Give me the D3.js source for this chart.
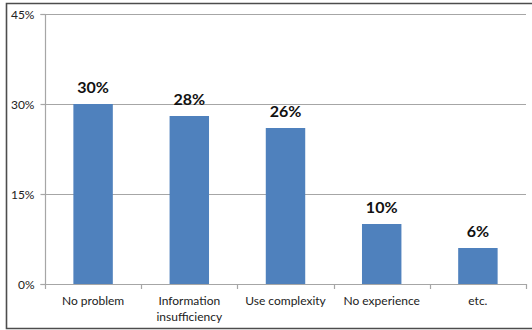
<!DOCTYPE html>
<html>
<head>
<meta charset="utf-8">
<script src="https://cdn.jsdelivr.net/npm/d3@7"></script>
<style>
  html, body { margin: 0; padding: 0; background: #fff; }
  svg { display: block; }
</style>
</head>
<body>
<svg id="chart" width="532" height="330"></svg>
<script>
// Survey responses, share of respondents (%)
const categories = [["No problem"], ["Information", "insufficiency"], ["Use complexity"], ["No experience"], ["etc."]];
const values = [30, 28, 26, 10, 6];
const valueLabels = ["30%", "28%", "26%", "10%", "6%"];
const yTicks = [0, 15, 30, 45];
const yTickLabels = ["0%", "15%", "30%", "45%"];

const svg = d3.select("#chart");
const font = "Lato, 'Open Sans', sans-serif";

// outer frame (right edge runs off the canvas)
svg.append("path")
  .attr("d", "M540,3.5 H6.5 V328.5 H540")
  .attr("fill", "none")
  .attr("stroke", "#4d4d4d")
  .attr("stroke-width", 1.6);

const plot = { left: 45, right: 526, top: 14, bottom: 284 };

const x = d3.scaleBand()
  .domain(d3.range(categories.length))
  .range([plot.left, plot.right])
  .paddingInner(0.59)
  .paddingOuter(0.295);

const xb = d3.scaleBand()
  .domain(d3.range(categories.length))
  .range([plot.left, plot.right]);

const y = d3.scaleLinear().domain([0, 45]).range([plot.bottom, plot.top]);

// horizontal gridlines
svg.append("g")
  .selectAll("line")
  .data(yTicks.filter(t => t > 0))
  .join("line")
  .attr("x1", plot.left).attr("x2", plot.right)
  .attr("y1", d => Math.round(y(d)) + 0.5).attr("y2", d => Math.round(y(d)) + 0.5)
  .attr("stroke", "#a6a6a6").attr("stroke-width", 1.2);

// y axis
const yAxis = d3.axisLeft(y)
  .tickValues(yTicks)
  .tickFormat((d, i) => yTickLabels[i])
  .tickSize(5)
  .tickPadding(6);
const gy = svg.append("g")
  .attr("transform", `translate(${plot.left + 0.5},0)`)
  .call(yAxis);
gy.select(".domain").attr("stroke", "#a6a6a6").attr("stroke-width", 1.2)
  .attr("d", `M-5,${y(45) + 0.5}H0V${y(0) + 0.5}H-5`);
gy.selectAll(".tick line").attr("stroke", "#a6a6a6").attr("stroke-width", 1.2);
gy.selectAll(".tick").attr("transform", d => `translate(0,${Math.round(y(d)) + 0.5})`);
gy.selectAll(".tick text")
  .attr("font-family", font).attr("font-size", 12).attr("fill", "#222")
  .attr("dy", "0.35em");

// bars
svg.append("g")
  .selectAll("rect")
  .data(values)
  .join("rect")
  .attr("x", (d, i) => x(i))
  .attr("width", x.bandwidth())
  .attr("y", d => y(d))
  .attr("height", d => y(0) - y(d))
  .attr("fill", "#4f81bd");

// x axis line and band-boundary ticks
const gx = svg.append("g");
gx.append("line")
  .attr("x1", plot.left).attr("x2", plot.right)
  .attr("y1", plot.bottom + 0.5).attr("y2", plot.bottom + 0.5)
  .attr("stroke", "#a6a6a6").attr("stroke-width", 1.2);
gx.selectAll("line.tk")
  .data(d3.range(categories.length + 1))
  .join("line")
  .attr("class", "tk")
  .attr("x1", i => Math.round(plot.left + i * xb.bandwidth()) + 0.5)
  .attr("x2", i => Math.round(plot.left + i * xb.bandwidth()) + 0.5)
  .attr("y1", plot.bottom).attr("y2", plot.bottom + 5)
  .attr("stroke", "#a6a6a6").attr("stroke-width", 1.2);

// category labels
gx.selectAll("text")
  .data(categories)
  .join("text")
  .attr("x", (d, i) => xb(i) + xb.bandwidth() / 2)
  .attr("y", 305)
  .attr("text-anchor", "middle")
  .attr("font-family", font).attr("font-size", 12).attr("fill", "#222")
  .selectAll("tspan")
  .data(d => d)
  .join("tspan")
  .attr("x", function () { return this.parentNode.getAttribute("x"); })
  .attr("dy", (d, i) => i === 0 ? 0 : 16)
  .text(d => d);

// value labels
svg.append("g")
  .selectAll("text")
  .data(values)
  .join("text")
  .attr("x", (d, i) => x(i) + x.bandwidth() / 2)
  .attr("y", d => y(d) - 11)
  .attr("text-anchor", "middle")
  .attr("font-family", font).attr("font-size", 16).attr("font-weight", "bold").attr("fill", "#111")
  .text((d, i) => valueLabels[i]);
</script>
</body>
</html>
